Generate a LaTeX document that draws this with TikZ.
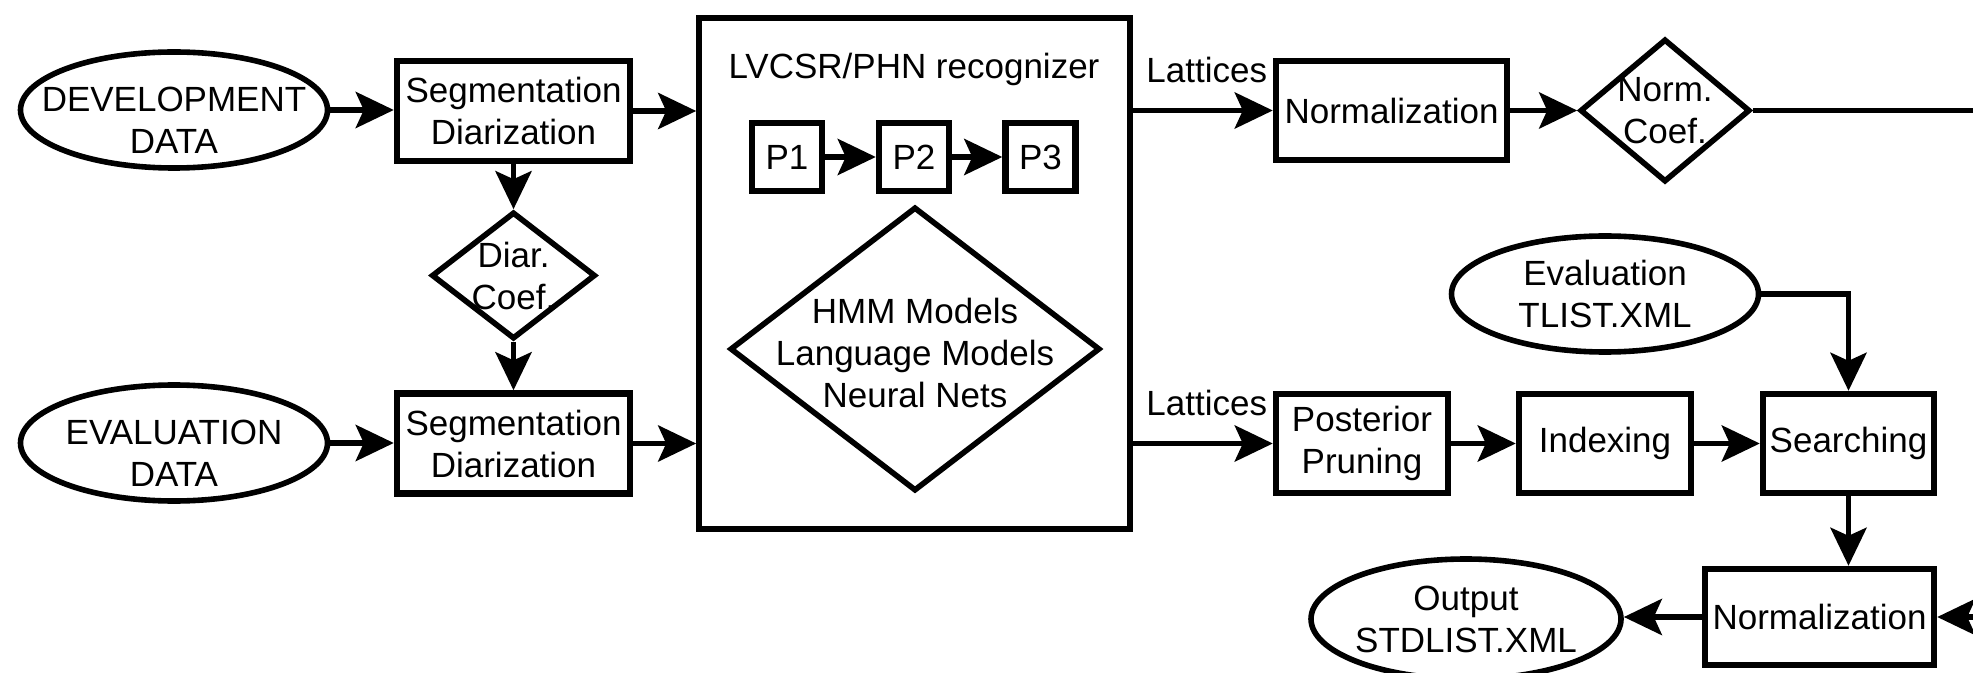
\documentclass[tikz,border=0pt]{standalone}
\usepackage{fontspec}
\setmainfont{Liberation Sans}
\usetikzlibrary{shapes.geometric, arrows.meta}
\newcommand\dfs{\fontsize{17.5}{21}\selectfont}
\begin{document}
\begin{tikzpicture}[x=0.5pt,y=-0.5pt,
  every node/.style={font=\dfs, inner sep=0pt},
  rbox/.style={draw, rectangle, line width=3.2pt, align=center},
  oval/.style={draw, ellipse, line width=2.8pt, minimum width=153.5pt, minimum height=58pt},
  dia/.style={draw, diamond, line width=2.8pt},
  arr/.style={line width=2.9pt, -{Stealth[length=19pt,width=18pt,inset=4pt]}},
  conn/.style={line width=2.9pt},
  txt/.style={align=center}
]
\fill[white] (0,0) rectangle (1973,673);
\useasboundingbox (0,0) rectangle (1973,673);
\clip (0,0) rectangle (1973,673);

% left column
\node[oval, label={[txt,yshift=-5pt]center:{DEVELOPMENT\\DATA}}] (dev) at (174,110) {};
\node[oval, label={[txt,yshift=-5pt]center:{EVALUATION\\DATA}}] (evd) at (174,443) {};
\node[rbox, minimum width=116.5pt, minimum height=50pt] (seg1) at (513.5,111) {Segmentation\\Diarization};
\node[rbox, minimum width=116.5pt, minimum height=50pt] (seg2) at (513.5,443.5) {Segmentation\\Diarization};
\node[dia, minimum width=82pt, minimum height=63.5pt, label={[txt]center:{Diar.\\Coef.}}] (diar) at (513.5,275.5) {};

% recognizer
\node[rbox, line width=2.8pt, minimum width=215.5pt, minimum height=255.5pt] (rec) at (914.5,273.5) {};
\node[anchor=base] (rectitle) at (914,79) {LVCSR/PHN recognizer};
\node[rbox, minimum width=35pt, minimum height=34pt] (p1) at (787,157) {P1};
\node[rbox, minimum width=35pt, minimum height=34pt] (p2) at (914,157) {P2};
\node[rbox, minimum width=35pt, minimum height=34pt] (p3) at (1040.5,157) {P3};
\node[dia, minimum width=185pt, minimum height=142pt, label={[txt,yshift=-2pt]center:{HMM Models\\Language Models\\Neural Nets}}] (models) at (915,349) {};

% top branch
\node[anchor=base west] (lat1) at (1146,83) {Lattices};
\node[rbox, minimum width=115.5pt, minimum height=49.5pt] (norm1) at (1391.5,110.5) {Normalization};
\node[dia, minimum width=85pt, minimum height=71.5pt, label={[txt]center:{Norm.\\Coef.}}] (ncoef) at (1665,110.5) {};
\coordinate (topout) at (1990,110.5);

% bottom branch
\node[anchor=base west] (lat2) at (1146,415) {Lattices};
\node[rbox, minimum width=86pt, minimum height=49.5pt] (post) at (1362,443.5) {Posterior\\Pruning};
\node[rbox, minimum width=86pt, minimum height=49.5pt] (index) at (1605,443.5) {Indexing};
\node[rbox, minimum width=85.5pt, minimum height=49.5pt] (search) at (1848.5,443.5) {Searching};
\node[oval, label={[txt]center:{Evaluation\\TLIST.XML}}] (evt) at (1605,294) {};
\node[rbox, minimum width=114.5pt, minimum height=48pt] (norm2) at (1819.5,617) {Normalization};
\node[oval, minimum width=155pt, minimum height=60pt, label={[txt]center:{Output\\STDLIST.XML}}] (out) at (1466,619) {};
\coordinate (botin) at (2030,617);

% connectors
\draw[arr] (dev.east) -- (dev.east -| seg1.west);
\draw[arr] (evd.east) -- (evd.east -| seg2.west);
\draw[arr] (seg1.east) -- (seg1.east -| rec.west);
\draw[arr] (seg2.east) -- (seg2.east -| rec.west);
\draw[arr] (seg1) -- (diar);
\draw[arr] (diar) -- (seg2);
\draw[arr] (p1) -- (p2);
\draw[arr] (p2) -- (p3);
\draw[arr] (rec.east |- norm1.west) -- (norm1.west);
\draw[arr] (rec.east |- post.west) -- (post.west);
\draw[arr] (norm1) -- (ncoef);
\draw[conn] (ncoef.east) -- (topout);
\draw[arr] (post) -- (index);
\draw[arr] (index) -- (search);
\draw[arr] (evt.east) -| (search.north);
\draw[arr] (search.south) -- (search.south |- norm2.north);
\draw[arr] (norm2.west) -- (norm2.west -| out.east);
\draw[arr] (botin) -- (norm2.east);
\end{tikzpicture}
\end{document}
